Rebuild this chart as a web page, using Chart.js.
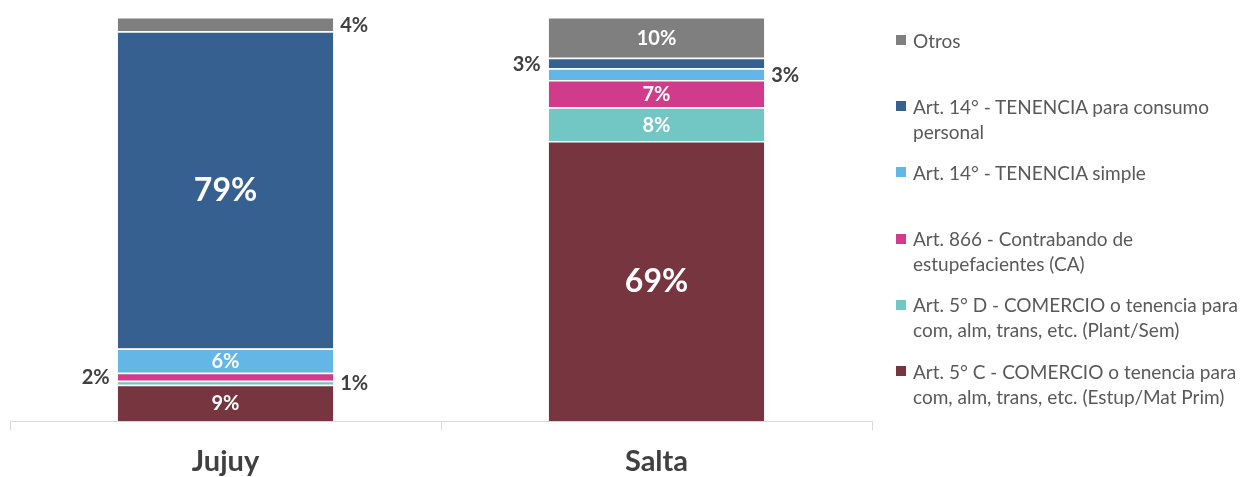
<!DOCTYPE html>
<html>
<head>
<meta charset="utf-8">
<script src="https://cdn.jsdelivr.net/npm/chart.js@4.4.1/dist/chart.umd.min.js"></script>
<style>
  html, body { margin: 0; padding: 0; background: #ffffff; overflow: hidden; }
  #wrap { position: relative; width: 1256px; height: 477px; overflow: hidden; }
  #c { position: absolute; left: 0; top: 0; }
  #legend { position: absolute; left: 896px; top: 0; width: 360px; font-family: Lato, "Open Sans", sans-serif; font-size: 19px; color: #595959; }
  .li { position: absolute; left: 0; line-height: 25px; }
  .sw { position: absolute; left: 0; top: 7.5px; width: 10px; height: 10px; }
  .tx { position: absolute; left: 17px; top: 0; white-space: nowrap; }
</style>
</head>
<body>
<div id="wrap">
  <canvas id="c" width="1256" height="493"></canvas>
  <div id="legend"></div>
</div>
<script>
// ---- data ----
const categories = ['Jujuy', 'Salta'];
const seriesNames = [
  ['Art. 5° C - COMERCIO o tenencia para', 'com, alm, trans, etc. (Estup/Mat Prim)'],
  ['Art. 5° D - COMERCIO o tenencia para', 'com, alm, trans, etc. (Plant/Sem)'],
  ['Art. 866 - Contrabando de', 'estupefacientes (CA)'],
  ['Art. 14° - TENENCIA simple'],
  ['Art. 14° - TENENCIA para consumo', 'personal'],
  ['Otros']
];
const art5C = [9.0, 69.3];
const art5D = [1.0, 8.4];
const art866 = [2.0, 6.7];
const tenenciaSimple = [6.0, 2.9];
const tenenciaConsumo = [78.5, 2.6];
const otros = [3.5, 10.1];
const seriesColors = ['#77353F', '#72C6C4', '#D03B8B', '#63B6E6', '#36608F', '#7F7F7F'];
const seriesValues = [art5C, art5D, art866, tenenciaSimple, tenenciaConsumo, otros];

const FONT = 'Lato, "Open Sans", sans-serif';

const datasets = seriesValues.map((vals, i) => ({
  label: seriesNames[i].join(' '),
  data: vals,
  backgroundColor: seriesColors[i],
  borderColor: '#ffffff',
  borderWidth: { top: 1.5, bottom: 0, left: 0, right: 0 },
  borderSkipped: false,
  categoryPercentage: 1.0,
  barPercentage: 0.5
}));

const labelPlugin = {
  id: 'segLabels',
  afterDatasetsDraw(chart) {
    const ctx = chart.ctx;
    ctx.save();
    const nCat = categories.length;
    for (let c = 0; c < nCat; c++) {
      let side = 1; // outside labels alternate starting on the right, bottom to top
      chart.data.datasets.forEach((ds, di) => {
        const meta = chart.getDatasetMeta(di);
        const bar = meta.data[c];
        if (!bar) return;
        const v = ds.data[c];
        const txt = Math.round(v) + '%';
        const cy = (bar.y + bar.base) / 2;
        if (v >= 5) {
          ctx.fillStyle = '#ffffff';
          ctx.font = (v > 50 ? 'bold 32px ' : 'bold 20px ') + FONT;
          ctx.textAlign = 'center';
          ctx.textBaseline = 'middle';
          ctx.fillText(txt, bar.x, cy + 1);
        } else {
          ctx.fillStyle = '#404040';
          ctx.font = 'bold 20px ' + FONT;
          ctx.textBaseline = 'middle';
          if (side === 1) {
            ctx.textAlign = 'left';
            ctx.fillText(txt, bar.x + bar.width / 2 + 7, cy + 1);
          } else {
            ctx.textAlign = 'right';
            ctx.fillText(txt, bar.x - bar.width / 2 - 8, cy + 1);
          }
          side = -side;
        }
      });
    }
    ctx.restore();
  }
};

new Chart(document.getElementById('c'), {
  type: 'bar',
  data: { labels: categories, datasets: datasets },
  options: {
    responsive: false,
    animation: false,
    devicePixelRatio: 1,
    layout: { padding: { left: 10, right: 384, top: 17, bottom: 0 } },
    plugins: { legend: { display: false }, tooltip: { enabled: false } },
    scales: {
      x: {
        stacked: true,
        grid: { display: true, drawOnChartArea: false, drawTicks: true, tickLength: 9, color: '#D9D9D9', offset: true },
        border: { display: true, color: '#D9D9D9', width: 1 },
        ticks: { color: '#404040', font: { family: FONT, size: 29, weight: 'bold' }, padding: 14 }
      },
      y: { stacked: true, display: false, min: 0, max: 100 }
    }
  },
  plugins: [labelPlugin]
});

// ---- HTML legend (reverse order, Otros on top) ----
const legend = document.getElementById('legend');
const firstCenter = 40, step = 66.2;
for (let k = 0; k < seriesNames.length; k++) {
  const i = seriesNames.length - 1 - k;
  const item = document.createElement('div');
  item.className = 'li';
  item.style.top = (firstCenter + k * step - 12.5) + 'px';
  const sw = document.createElement('div');
  sw.className = 'sw';
  sw.style.background = seriesColors[i];
  const tx = document.createElement('div');
  tx.className = 'tx';
  tx.innerHTML = seriesNames[i].map(s => s.replace(/&/g, '&amp;').replace(/</g, '&lt;')).join('<br>');
  item.appendChild(sw);
  item.appendChild(tx);
  legend.appendChild(item);
}
</script>
</body>
</html>
